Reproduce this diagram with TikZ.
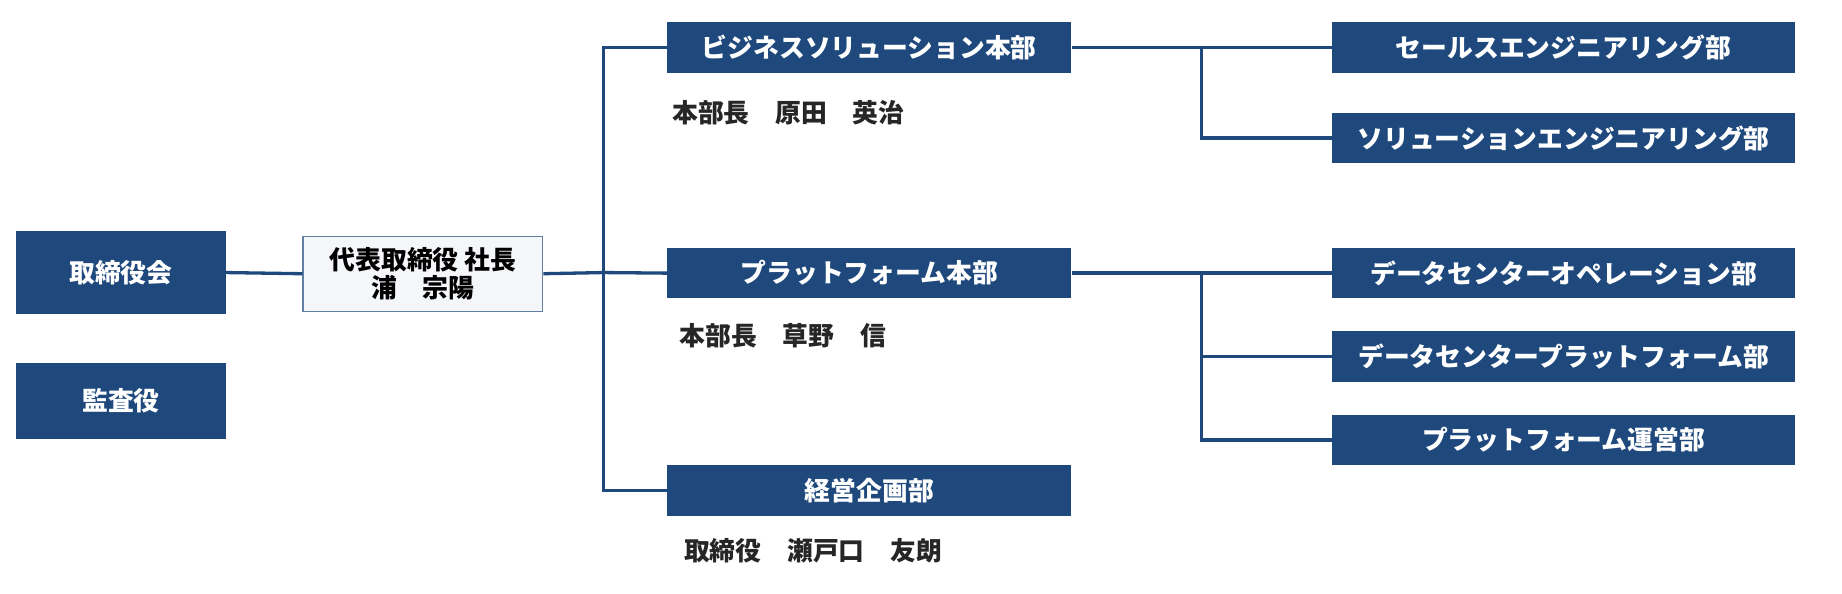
\documentclass[tikz,border=0pt]{standalone}
\usepackage{fontspec}
\newfontfamily\cjk{Noto Sans CJK JP}
\definecolor{nb}{HTML}{1F497D}
\definecolor{pb}{HTML}{F4F6F9}
\begin{document}
\begin{tikzpicture}[x=0.02cm,y=-0.02cm,
 font=\cjk\bfseries\fontsize{12.5}{15}\selectfont,
 db/.style={fill=nb,text=white,inner sep=0pt},
 ln/.style={draw=nb,line width=1.6pt},
 sub/.style={anchor=west,text=black!85,inner sep=0pt}]
\useasboundingbox (0,0) rectangle (1568,505);
\newcommand\bx[6]{\node[db,minimum width=#3*0.02cm,minimum height=#4*0.02cm] (#1) at (#2) {#6};}
\node[db,minimum width=3.56cm,minimum height=1.4cm] (bod) at (103,232) {取締役会};
\node[db,minimum width=3.56cm,minimum height=1.3cm] (aud) at (103,341.5) {監査役};
\node[fill=pb,draw=nb!70,line width=0.6pt,minimum width=4.08cm,minimum height=1.28cm,align=center,inner sep=0pt,font=\cjk\bfseries\fontsize{12.5}{14}\selectfont] (ceo) at (360,233) {代表取締役 社長\\浦\quad 宗陽};
\tikzset{hq/.style={db,minimum width=6.88cm,minimum height=0.86cm},
 dp/.style={db,minimum width=7.88cm,minimum height=0.86cm}}
\node[hq] (biz) at (740,40.5) {ビジネスソリューション本部};
\node[hq] (plt) at (740,232.5) {プラットフォーム本部};
\node[hq] (kei) at (740,417.5) {経営企画部};
\node[sub] (s1) at (572,96) {本部長\quad 原田\quad 英治};
\node[sub] (s2) at (578,286) {本部長\quad 草野\quad 信};
\node[sub] (s3) at (582,469) {取締役\quad 瀬戸口\quad 友朗};
\node[dp] (d1) at (1331,40.5) {セールスエンジニアリング部};
\node[dp] (d2) at (1331,117.5) {ソリューションエンジニアリング部};
\node[dp] (d3) at (1331,232.5) {データセンターオペレーション部};
\node[dp] (d4) at (1331,303.5) {データセンタープラットフォーム部};
\node[dp] (d5) at (1331,374.5) {プラットフォーム運営部};
\coordinate (v) at (514,232);
\draw[ln] (bod.east) -- (ceo.west);
\draw[ln] (ceo.east) -- (v) -- (plt.west);
\draw[ln] (biz.west) -| (v) |- (kei.west);
\draw[ln] (biz.east) -- (d1.west);
\draw[ln] (1023,40.5) |- (d2.west);
\draw[ln] (plt.east) -- (d3.west);
\draw[ln] (1023,232.5) |- (d4.west);
\draw[ln] (1023,232.5) |- (d5.west);
\end{tikzpicture}
\end{document}
